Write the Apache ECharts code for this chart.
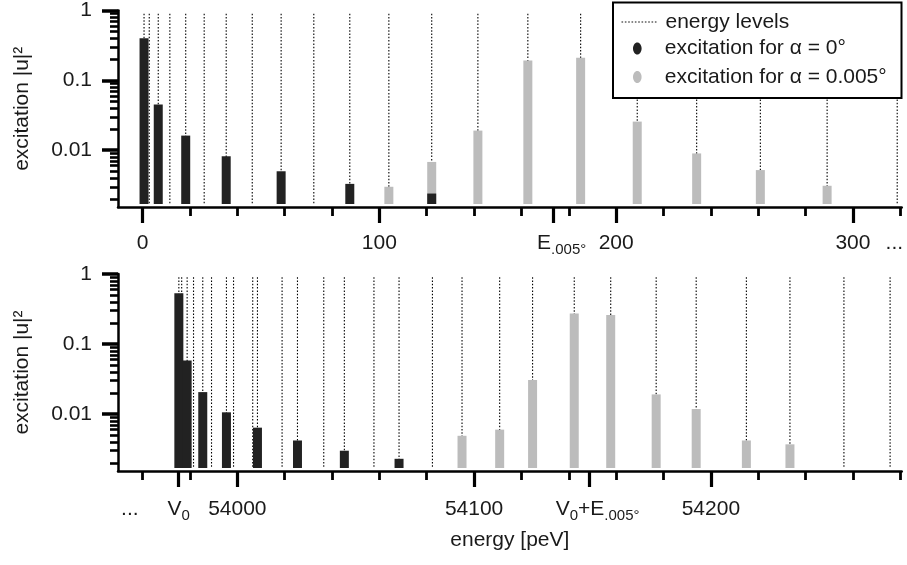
<!DOCTYPE html>
<html>
<head>
<meta charset="utf-8">
<script src="https://cdn.jsdelivr.net/npm/echarts@6/dist/echarts.min.js"></script>
<style>
  html, body { margin: 0; padding: 0; background: #fff; }
  #chart { width: 907px; height: 565px; }
</style>
</head>
<body>
<div id="chart"></div>
<script>
// ---- data: energies in peV, excitation probabilities |u|^2 ----
// upper panel: energy relative to the bottom of the well
const topLevels = [0.6, 2.8, 6.6, 11.5, 18.2, 26.0, 35.3, 46.3, 58.5, 72.3, 87.5,
  104.0, 122.1, 141.6, 162.7, 185.0, 208.9, 234.0, 260.9, 289.1, 318.7];
const topAlpha0 = [[0.6, 0.40], [6.6, 0.045], [18.2, 0.0162], [35.3, 0.0082],
  [58.5, 0.0050], [87.5, 0.0033], [122.1, 0.0024]];
const topAlpha005 = [[104.0, 0.0030], [122.1, 0.0068], [141.6, 0.0191], [162.7, 0.193],
  [185.0, 0.211], [208.9, 0.0257], [234.0, 0.0090], [260.9, 0.0052], [289.1, 0.0031]];

// lower panel: absolute energy
const bottomLevels = [53975.3, 53976.5, 53978.8, 53981.5, 53985.4, 53989.1, 53995.4,
  53998.4, 54006.5, 54008.5, 54018.9, 54025.4, 54036.5, 54045.2, 54057.7, 54068.3,
  54082.4, 54094.9, 54110.8, 54124.7, 54142.3, 54157.7, 54176.9, 54193.8, 54215.0,
  54233.4, 54256.2, 54275.7];
const bottomAlpha0 = [[53975.3, 0.53], [53978.8, 0.058], [53985.4, 0.0206], [53995.4, 0.0106],
  [54008.5, 0.0064], [54025.4, 0.0042], [54045.2, 0.0030], [54068.3, 0.0023]];
const bottomAlpha005 = [[54094.9, 0.0049], [54110.8, 0.0060], [54124.7, 0.0306],
  [54142.3, 0.274], [54157.7, 0.26], [54176.9, 0.0191], [54193.8, 0.0118],
  [54215.0, 0.0042], [54233.4, 0.0037]];

// ---- axes ----
const V0 = 53975.2;
const E005 = 173.6;
const topRange = [-10.4, 320.6];
const bottomRange = [53949.6, 54280.6];
const yRange = [0.00154, 1];

const topMinorTicks = [0, 20, 40, 60, 80, 100, 120, 140, 160, 180, 200, 220, 240, 260, 280, 300, 320];
const topMajorTicks = [0, 100, E005, 200, 300];
const topLabelValues = [0, 100, E005, 200, 300, 317.5];
const topLabelTexts = ['0', '100', '{p| }E{s|.005°}', '200', '300', '...'];

const bottomMinorTicks = [53960, 53980, 54000, 54020, 54040, 54060, 54080, 54100, 54120,
  54140, 54160, 54180, 54200, 54220, 54240, 54260, 54280];
const bottomMajorTicks = [V0, 54000, 54100, V0 + E005, 54200];
const bottomLabelValues = [53954.6, V0, 54000, 54100, V0 + E005, 54200];
const bottomLabelTexts = ['...', 'V{s|0}', '54000', '54100', '{p| }V{s|0}+E{s|.005°}', '54200'];

const yMajorTicks = [0.01, 0.1, 1];
const yLabelTexts = ['0.01', '0.1', '1'];
const yMinorTicks = [0.002, 0.003, 0.004, 0.005, 0.006, 0.007, 0.008, 0.009,
  0.02, 0.03, 0.04, 0.05, 0.06, 0.07, 0.08, 0.09,
  0.2, 0.3, 0.4, 0.5, 0.6, 0.7, 0.8, 0.9];

const NAME_LEVELS = 'energy levels';
const NAME_A0 = 'excitation for α = 0°';
const NAME_A5 = 'excitation for α = 0.005°';

// ---- style ----
const FONT = 'Liberation Sans, Arial, sans-serif';
const INK = '#1a1a1a';
const DARK = '#222222';
const LIGHT = '#bcbcbc';
const BAR_BASE = 0.0017;
const LEVEL_TOP = 0.9;
const BAR_W = 9;

function nearest(values, texts, logScale) {
  return function (v) {
    let best = 0;
    const d = (a) => logScale ? Math.abs(Math.log(a) - Math.log(v)) : Math.abs(a - v);
    for (let i = 1; i < values.length; i++) if (d(values[i]) < d(values[best])) best = i;
    return texts[best];
  };
}

function barItem(color) {
  return function (params, api) {
    const x = api.value(0);
    const top = api.coord([x, api.value(1)]);
    const base = api.coord([x, BAR_BASE]);
    return {
      type: 'rect',
      shape: { x: top[0] - BAR_W / 2, y: top[1], width: BAR_W, height: base[1] - top[1] },
      style: { fill: color }
    };
  };
}

function levelItem(params, api) {
  const x = api.value(0);
  const a = api.coord([x, api.value(1)]);
  const b = api.coord([x, BAR_BASE]);
  return {
    type: 'line',
    shape: { x1: a[0], y1: a[1], x2: b[0], y2: b[1] },
    style: { stroke: '#000', lineWidth: 1.1, lineDash: [1.5, 1.8] }
  };
}

const labelRich = {
  s: { fontSize: 15, fontFamily: FONT, color: INK, padding: [14, 0, 0, 0] },
  p: { width: 16, fontSize: 15 }
};

function xAxesFor(gridIndex, range, minor, major, labelValues, labelTexts, margin, extra) {
  const minorAxis = {
    type: 'value', gridIndex, min: range[0], max: range[1], position: 'bottom',
    axisLine: { show: true, onZero: false, lineStyle: { color: '#000', width: 2.5 } },
    axisTick: { show: true, customValues: minor, length: 9, lineStyle: { color: '#000', width: 2.8 } },
    axisLabel: { show: false },
    splitLine: { show: false }
  };
  const majorAxis = Object.assign({
    type: 'value', gridIndex, min: range[0], max: range[1], position: 'bottom',
    axisLine: { show: false, onZero: false },
    axisTick: { show: true, customValues: major, length: 16, lineStyle: { color: '#000', width: 3.2 } },
    axisLabel: {
      show: true, customValues: labelValues, formatter: nearest(labelValues, labelTexts, false),
      fontSize: 21, fontFamily: FONT, color: INK, lineHeight: 29, margin, rich: labelRich
    },
    splitLine: { show: false }
  }, extra || {});
  return [minorAxis, majorAxis];
}

function yAxesFor(gridIndex) {
  return [{
    type: 'log', gridIndex, min: yRange[0], max: yRange[1], position: 'left',
    name: 'excitation |u|²', nameLocation: 'middle', nameGap: 85,
    nameTextStyle: { fontSize: 21, fontFamily: FONT, color: INK },
    axisLine: { show: true, onZero: false, lineStyle: { color: '#000', width: 2.5 } },
    axisTick: { show: true, customValues: yMajorTicks, length: 16, lineStyle: { color: '#000', width: 3.5 } },
    axisLabel: {
      show: true, customValues: yMajorTicks, formatter: nearest(yMajorTicks, yLabelTexts, true),
      fontSize: 21, fontFamily: FONT, color: INK, margin: 26
    },
    splitLine: { show: false }
  }, {
    type: 'log', gridIndex, min: yRange[0], max: yRange[1], position: 'left',
    axisLine: { show: false, onZero: false },
    axisTick: { show: true, customValues: yMinorTicks, length: 8, lineStyle: { color: '#000', width: 2.6 } },
    axisLabel: { show: false },
    splitLine: { show: false }
  }];
}

function panelSeries(levels, alpha0, alpha005, xIdx, yIdx) {
  return [{
    type: 'custom', name: NAME_LEVELS, xAxisIndex: xIdx, yAxisIndex: yIdx, z: 2,
    itemStyle: { color: '#111' }, renderItem: levelItem, encode: { x: 0, y: 1 },
    data: levels.map(e => [e, LEVEL_TOP]), silent: true
  }, {
    type: 'custom', name: NAME_A5, xAxisIndex: xIdx, yAxisIndex: yIdx, z: 3,
    itemStyle: { color: LIGHT }, renderItem: barItem(LIGHT), encode: { x: 0, y: 1 },
    data: alpha005, silent: true
  }, {
    type: 'custom', name: NAME_A0, xAxisIndex: xIdx, yAxisIndex: yIdx, z: 4,
    itemStyle: { color: DARK }, renderItem: barItem(DARK), encode: { x: 0, y: 1 },
    data: alpha0, silent: true
  }];
}

// dotted sample for the legend
let dotted = 'path://';
for (let i = 0; i < 11; i++) dotted += 'M' + (i * 3.3) + ',0h1.6v1h-1.6z';
const ellipse = 'path://M5,0C7.8,0 10,3.1 10,7C10,10.9 7.8,14 5,14C2.2,14 0,10.9 0,7C0,3.1 2.2,0 5,0Z';

const chart = echarts.init(document.getElementById('chart'));
chart.setOption({
  animation: false,
  backgroundColor: '#fff',
  grid: [
    { left: 118, top: 10, width: 783.7, height: 197 },
    { left: 118, top: 274, width: 783.7, height: 197 }
  ],
  xAxis: [
    ...xAxesFor(0, topRange, topMinorTicks, topMajorTicks, topLabelValues, topLabelTexts, 21.5),
    ...xAxesFor(1, bottomRange, bottomMinorTicks, bottomMajorTicks, bottomLabelValues, bottomLabelTexts, 23.5, {
      name: 'energy [peV]', nameLocation: 'middle', nameGap: 59,
      nameTextStyle: { fontSize: 21, fontFamily: FONT, color: INK }
    })
  ],
  yAxis: [...yAxesFor(0), ...yAxesFor(1)],
  graphic: [{
    type: 'rect', z: 10,
    shape: { x: 613, y: 2.5, width: 288.5, height: 95.5 },
    style: { fill: '#fff', stroke: '#000', lineWidth: 2 }
  }],
  legend: [{
    data: [NAME_LEVELS], left: 621.5, top: 11.5, padding: 0, orient: 'vertical',
    itemWidth: 35, itemHeight: 1.2, icon: dotted, selectedMode: false, z: 20,
    textStyle: { fontSize: 21, fontFamily: FONT, color: INK, padding: [0, 0, 0, 4] }
  }, {
    data: [NAME_A0, NAME_A5], left: 633, top: 38, padding: 0, orient: 'vertical',
    itemWidth: 9, itemHeight: 12, itemGap: 7.5, icon: ellipse, selectedMode: false, z: 20,
    textStyle: { fontSize: 21, fontFamily: FONT, color: INK, padding: [0, 0, 0, 18] }
  }],
  series: [
    ...panelSeries(topLevels, topAlpha0, topAlpha005, 0, 0),
    ...panelSeries(bottomLevels, bottomAlpha0, bottomAlpha005, 2, 2)
  ]
});
</script>
</body>
</html>
